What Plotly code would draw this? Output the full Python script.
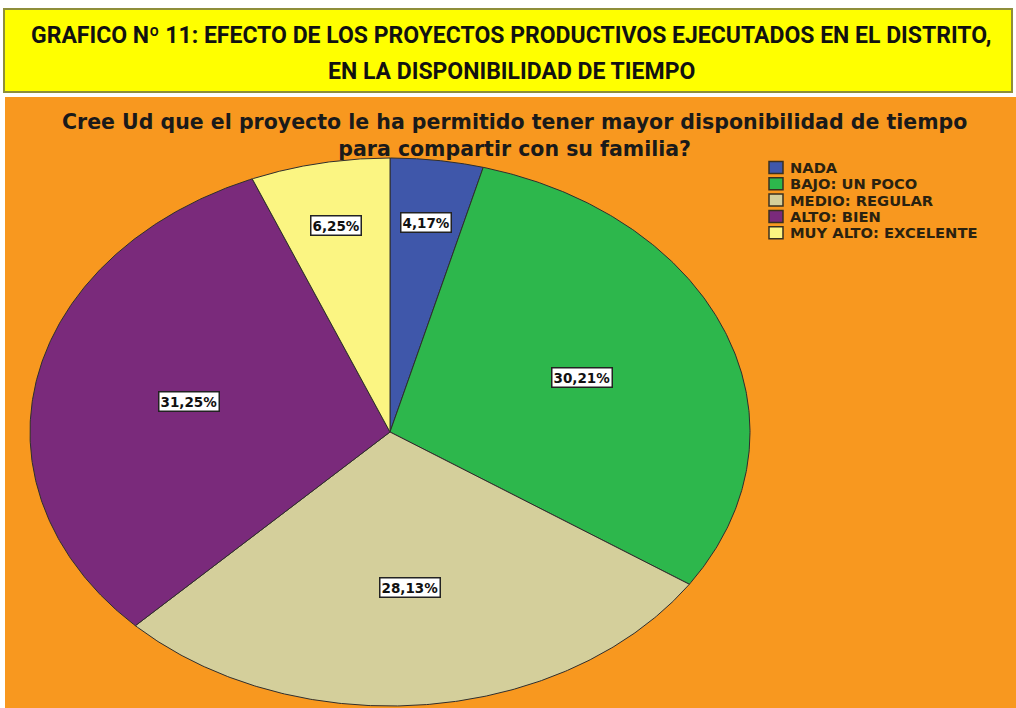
import numpy as np
import plotly.graph_objects as go

# datos del grafico
categorias = ["NADA", "BAJO: UN POCO", "MEDIO: REGULAR", "ALTO: BIEN", "MUY ALTO: EXCELENTE"]
porcentajes = [4.17, 30.21, 28.13, 31.25, 6.25]
etiquetas = ["4,17%", "30,21%", "28,13%", "31,25%", "6,25%"]
colores = ["#3F57AA", "#2DB74C", "#D4CF9B", "#7A2A7B", "#FBF582"]

titulo = ["GRAFICO Nº 11: EFECTO DE LOS PROYECTOS PRODUCTIVOS EJECUTADOS EN EL DISTRITO,",
          "EN LA DISPONIBILIDAD DE TIEMPO"]
subtitulo = ("Cree Ud que el proyecto le ha permitido tener mayor disponibilidad de tiempo"
             "<br>para compartir con su familia?")

W, H = 1016, 708
# pastel estirado (eliptico) como en la imagen original
cx, cy, rx, ry = 390, 432, 360, 274

fig = go.Figure()

frac = np.array(porcentajes) / sum(porcentajes)
ini = np.concatenate([[0], np.cumsum(frac)[:-1]])

for i, cat in enumerate(categorias):
    t = np.linspace(ini[i], ini[i] + frac[i], 240) * 2 * np.pi
    xs = np.concatenate([[cx], cx + rx * np.sin(t), [cx]])
    ys = np.concatenate([[cy], cy - ry * np.cos(t), [cy]])
    fig.add_trace(go.Scatter(
        x=xs, y=ys, fill="toself", fillcolor=colores[i],
        mode="lines", line=dict(color="#2e2e2e", width=1),
        name=cat, hoverinfo="name", showlegend=False
    ))

# etiquetas de porcentaje
mid = (ini + frac / 2) * 2 * np.pi
rl = np.where(frac < 0.1, 0.77, 0.57)
for i, lab in enumerate(etiquetas):
    fig.add_annotation(
        x=cx + rx * rl[i] * np.sin(mid[i]), y=cy - ry * rl[i] * np.cos(mid[i]),
        xref="x", yref="y", text=lab, showarrow=False,
        font=dict(family="DejaVu Sans", size=13.5, color="#111111", weight="bold"),
        bgcolor="white", bordercolor="#222222", borderwidth=1.5, borderpad=1
    )

# leyenda manual
for i, cat in enumerate(categorias):
    yc = 167.5 + 16.3 * i
    fig.add_shape(type="rect", xref="x", yref="y", x0=769, x1=783, y0=yc - 6, y1=yc + 6,
                  fillcolor=colores[i], line=dict(color="#3a3020", width=1.5))
    fig.add_annotation(x=788, y=yc, xref="x", yref="y", text=cat, showarrow=False,
                       xanchor="left", yanchor="middle",
                       font=dict(family="DejaVu Sans", size=14.7, color="#2a2210", weight="bold"))

# fondos
fig.add_shape(type="rect", xref="x", yref="y", x0=5, x1=1016, y0=97, y1=708,
              fillcolor="#F8981F", line=dict(width=0), layer="below")
fig.add_shape(type="rect", xref="x", yref="y", x0=4, x1=1012, y0=9, y1=92,
              fillcolor="#FFFF00", line=dict(color="#8E8E3A", width=2), layer="below")

for txt, yy in zip(titulo, [35, 71]):
    fig.add_annotation(x=511, y=yy, xref="x", yref="y", text=txt, showarrow=False,
                       font=dict(family="Roboto", size=23, color="#111111", weight="bold"))
fig.add_annotation(x=514, y=135, xref="x", yref="y", text=subtitulo, showarrow=False,
                   font=dict(family="DejaVu Sans", size=20.5, color="#1a1a1a", weight="bold"),
                   align="center")

fig.update_layout(
    width=W, height=H, autosize=False,
    margin=dict(l=0, r=0, t=0, b=0),
    paper_bgcolor="white", plot_bgcolor="white",
    xaxis=dict(range=[0, W], visible=False, fixedrange=True),
    yaxis=dict(range=[H, 0], visible=False, fixedrange=True),
    showlegend=False,
)

fig.write_html("out.html", config={"displayModeBar": False},
               post_script="document.body.style.margin='0';")
